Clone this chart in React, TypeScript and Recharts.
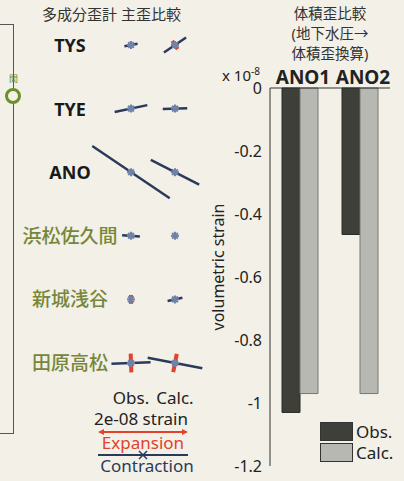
import React from 'react';
import { ScatterChart, Scatter, XAxis, YAxis, BarChart, Bar, Legend } from 'recharts';

// left panel: principal strain, obs vs calc (x1e-8 strain, azimuth of contraction axis in deg)
const stations = ['TYS', 'TYE', 'ANO', '浜松佐久間', '新城浅谷', '田原高松'];
const columns = ['Obs.', 'Calc.'];
const obsContraction = [0.3, 0.75, 2.1, 0.4, 0.06, 0.88];
const obsExpansion = [0.12, 0.08, 0.1, 0.06, 0.2, 0.42];
const obsAngle = [10, 12, -34, -4, 0, 2];
const calcContraction = [0.6, 0.55, 1.22, 0.08, 0.34, 1.25];
const calcExpansion = [0.22, 0.1, 0.1, 0.1, 0.06, 0.42];
const calcAngle = [34, 2, -27, 60, 12, -11];

// right panel: volumetric strain (x1e-8)
const volSites = ['ANO1', 'ANO2'];
const volObs = [-1.03, -0.465];
const volCalc = [-0.97, -0.97];
const volTicks = [0, -0.2, -0.4, -0.6, -0.8, -1, -1.2];
const volTitle = ['体積歪比較', '(地下水圧→', '体積歪換算)'];

const FONT = "'Noto Sans', 'Noto Sans CJK JP', sans-serif";
const PX_PER_UNIT = 44.5; // 2e-08 strain = scale bar width
const BLUE = '#2b3a5c';
const RED = '#e2412b';
const OLIVE = '#76863a';

const obsPoints = stations.map((s, i) => ({ col: 0, row: i, c: obsContraction[i], e: obsExpansion[i], a: obsAngle[i] }));
const calcPoints = stations.map((s, i) => ({ col: 1, row: i, c: calcContraction[i], e: calcExpansion[i], a: calcAngle[i] }));
const volData = volSites.map((site, i) => ({ site, obs: volObs[i], calc: volCalc[i] }));

function StrainGlyph(props: any) {
  const { cx, cy, payload } = props;
  const r = (payload.a * Math.PI) / 180;
  const dx = Math.cos(r), dy = -Math.sin(r);
  const hc = (payload.c * PX_PER_UNIT) / 2;
  const he = (payload.e * PX_PER_UNIT) / 2;
  const star = [0, 45, 90, 135].map(d => {
    const t = (d * Math.PI) / 180;
    return <line key={d} x1={cx - Math.cos(t) * 4} y1={cy - Math.sin(t) * 4} x2={cx + Math.cos(t) * 4} y2={cy + Math.sin(t) * 4} stroke="#6f83a8" strokeWidth={2} />;
  });
  return (
    <g>
      <line x1={cx - dx * hc} y1={cy - dy * hc} x2={cx + dx * hc} y2={cy + dy * hc} stroke={BLUE} strokeWidth={2.5} />
      <line x1={cx + dy * he} y1={cy - dx * he} x2={cx - dy * he} y2={cy + dx * he} stroke={RED} strokeWidth={4} />
      {star}
    </g>
  );
}

function StationTick(props: any) {
  const { y, payload } = props;
  const name = stations[payload.value];
  const jp = /[^\x00-\x7f]/.test(name);
  return (
    <text x={70} y={y} textAnchor="middle" dominantBaseline="central" fontFamily={FONT}
      fontSize={jp ? 19 : 18} fontWeight={jp ? 500 : 700} fill={jp ? OLIVE : '#1a1a1a'}>
      {name}
    </text>
  );
}

function VolLegend() {
  const items = [{ label: 'Obs.', fill: '#3e3f38' }, { label: 'Calc.', fill: '#b8b8b3' }];
  return (
    <div style={{ fontFamily: FONT, fontSize: 17, color: '#222' }}>
      {items.map(it => (
        <div key={it.label} style={{ display: 'flex', alignItems: 'center', height: 21 }}>
          <div style={{ width: 31, height: 17, background: it.fill, border: '1px solid #333', marginRight: 3 }} />
          <span>{it.label}</span>
        </div>
      ))}
    </div>
  );
}

export default function App() {
  return (
    <div style={{ position: 'fixed', left: 0, top: 0, width: 404, height: 481, background: '#f2f0e7', fontFamily: FONT, overflow: 'hidden' }}>
      {/* map fragment at left edge */}
      <div style={{ position: 'absolute', left: -2, top: 24, width: 15, height: 408, border: '1.5px solid #555', borderLeft: 'none' }} />
      <div style={{ position: 'absolute', left: 5, top: 88, width: 10, height: 10, borderRadius: '50%', border: '3px solid #6d8f2a', background: '#f2f0e7' }} />
      <div style={{ position: 'absolute', left: 9, top: 74, fontSize: 9, color: '#6d8f2a', lineHeight: '10px' }}>間</div>

      <div style={{ position: 'absolute', left: 42, top: 3, fontSize: 15, color: '#333', whiteSpace: 'nowrap' }}>多成分歪計 主歪比較</div>

      <div style={{ position: 'absolute', left: 0, top: 0 }}>
        <ScatterChart width={215} height={410} margin={{ top: 0, right: 0, bottom: 0, left: 0 }}>
          <XAxis type="number" dataKey="col" domain={[0, 1]} ticks={[0, 1]} interval={0}
            tickFormatter={(v: number) => columns[v]} axisLine={false} tickLine={false} height={30}
            padding={{ left: 21, right: 40 }} tick={{ fill: '#222', fontSize: 17, fontFamily: FONT, dy: 4 }} />
          <YAxis type="number" dataKey="row" domain={[0, 5]} reversed ticks={[0, 1, 2, 3, 4, 5]} interval={0}
            width={110} axisLine={false} tickLine={false} padding={{ top: 45, bottom: 17 }} tick={<StationTick />} />
          <Scatter data={obsPoints} shape={StrainGlyph} isAnimationActive={false} />
          <Scatter data={calcPoints} shape={StrainGlyph} isAnimationActive={false} />
        </ScatterChart>
      </div>

      {/* scale legend */}
      <div style={{ position: 'absolute', left: 80, top: 409, width: 122, textAlign: 'center', fontSize: 17, color: '#222', lineHeight: '20px' }}>2e-08 strain</div>
      <svg style={{ position: 'absolute', left: 0, top: 0 }} width={210} height={481}>
        <line x1={100} y1={432} x2={186} y2={432} stroke={RED} strokeWidth={2} />
        <path d="M98,432 L104,429 L104,435 Z M188,432 L182,429 L182,435 Z" fill={RED} />
        <line x1={98} y1={455} x2={188} y2={455} stroke={BLUE} strokeWidth={2} />
        <path d="M139,451 L147,459 M147,451 L139,459" stroke={BLUE} strokeWidth={1.5} />
      </svg>
      <div style={{ position: 'absolute', left: 82, top: 433, width: 122, textAlign: 'center', fontSize: 17, color: RED, lineHeight: '20px' }}>Expansion</div>
      <div style={{ position: 'absolute', left: 86, top: 456, width: 122, textAlign: 'center', fontSize: 17, color: BLUE, lineHeight: '20px' }}>Contraction</div>

      {/* right panel */}
      {volTitle.map((t, i) => (
        <div key={t} style={{ position: 'absolute', left: 270, top: 3 + i * 20, width: 120, textAlign: 'center', fontSize: 14.5, lineHeight: '20px', color: '#333' }}>{t}</div>
      ))}
      <div style={{ position: 'absolute', left: 222, top: 64, fontSize: 15, color: '#222', whiteSpace: 'nowrap' }}>
        x 10<sup style={{ fontSize: 10 }}>-8</sup>
      </div>
      <div style={{ position: 'absolute', left: 200, top: 0 }}>
        <BarChart width={204} height={481} data={volData} margin={{ top: 60, right: 14, bottom: 15, left: 0 }} barGap={0} barCategoryGap="20%">
          <XAxis dataKey="site" orientation="top" interval={0} axisLine={{ stroke: '#333' }} tickLine={false} height={28}
            tick={{ fontSize: 19, fontWeight: 700, fill: '#222', fontFamily: FONT, dx: 3, dy: 4 }} />
          <YAxis type="number" domain={[-1.2, 0]} ticks={volTicks} interval={0} width={70} axisLine={{ stroke: '#333' }} tickLine={false}
            tick={{ fontSize: 16, fill: '#222', fontFamily: FONT }}
            label={({ viewBox }: any) => {
              const x = viewBox.x + 18, y = viewBox.y + viewBox.height / 2 - 10;
              return (
                <text x={x} y={y} transform={`rotate(-90, ${x}, ${y})`} textAnchor="middle" dominantBaseline="central" fontSize={16} fill="#222" fontFamily={FONT}>
                  volumetric strain
                </text>
              );
            }} />
          <Bar dataKey="obs" name="Obs." fill="#3e3f38" stroke="#2a2a25" isAnimationActive={false} />
          <Bar dataKey="calc" name="Calc." fill="#b8b8b3" stroke="#777" isAnimationActive={false} />
          <Legend layout="vertical" align="center" verticalAlign="middle" content={<VolLegend />}
            wrapperStyle={{ left: 120, top: 421, width: 'auto' }} />
        </BarChart>
      </div>
    </div>
  );
}
